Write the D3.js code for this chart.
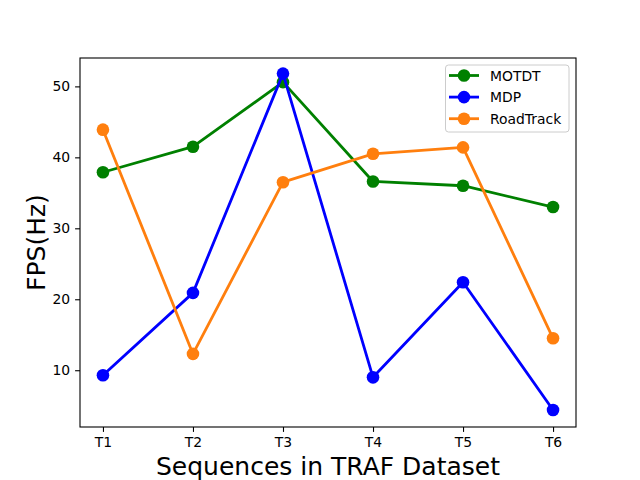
<!DOCTYPE html>
<html>
<head>
<meta charset="utf-8">
<script src="https://cdn.jsdelivr.net/npm/d3@7"></script>
<style>
  body { margin: 0; background: #fff; }
  svg { font-family: "DejaVu Sans", sans-serif; }
</style>
</head>
<body>
<div id="chart"></div>
<script>
// data
const categories = ['T1', 'T2', 'T3', 'T4', 'T5', 'T6']
const motdt = [37.9, 41.5, 50.6, 36.6, 36.0, 33.0]
const mdp = [9.3, 20.9, 51.8, 9.0, 22.4, 4.4]
const roadTrack = [43.9, 12.3, 36.5, 40.5, 41.4, 14.5]
const yTicks = [10, 20, 30, 40, 50]
const seriesNames = ['MOTDT', 'MDP', 'RoadTrack']
const seriesColors = ['green', 'blue', '#ff7f0e']

const width = 640, height = 480
const plotLeft = 80, plotRight = 576, plotTop = 58, plotBottom = 427

const svg = d3.select('#chart').append('svg')
    .attr('width', width)
    .attr('height', height)

const x = d3.scaleLinear().domain([-0.255, 5.255]).range([plotLeft, plotRight])
const y = d3.scaleLinear().domain([2, 54]).range([plotBottom, plotTop])

// axes
let xAxis = d3.axisBottom(x)
    .tickValues(d3.range(categories.length))
    .tickFormat(i => categories[i])
    .tickSize(4.9).tickPadding(4.9)
let yAxis = d3.axisLeft(y)
    .tickValues(yTicks)
    .tickSize(4.9).tickPadding(4.9)

let gx = svg.append('g').attr('transform', 'translate(0,' + plotBottom + ')').call(xAxis)
let gy = svg.append('g').attr('transform', 'translate(' + plotLeft + ',0)').call(yAxis)
;[gx, gy].forEach(function (g) {
    g.select('.domain').remove()
    g.selectAll('.tick line').attr('stroke', '#000').attr('stroke-width', 1.1)
    g.selectAll('.tick text').attr('fill', '#000').style('font-size', '13.9px')
        .style('font-family', '"DejaVu Sans", sans-serif')
})

// series
let allSeries = [motdt, mdp, roadTrack]
let line = d3.line().x((d, i) => x(i)).y(d => y(d))

allSeries.forEach(function (vals, s) {
    svg.append('path')
        .attr('d', line(vals))
        .attr('fill', 'none')
        .attr('stroke', seriesColors[s])
        .attr('stroke-width', 2.8)
        .attr('stroke-linejoin', 'round')
    svg.selectAll('.dot' + s)
        .data(vals)
        .enter()
        .append('circle')
        .attr('cx', (d, i) => x(i))
        .attr('cy', d => y(d))
        .attr('r', 6.3)
        .attr('fill', seriesColors[s])
})

// frame
svg.append('rect')
    .attr('x', plotLeft).attr('y', plotTop)
    .attr('width', plotRight - plotLeft).attr('height', plotBottom - plotTop)
    .attr('fill', 'none').attr('stroke', '#000').attr('stroke-width', 1.1)

// labels
svg.append('text')
    .attr('x', (plotLeft + plotRight) / 2).attr('y', 475)
    .attr('text-anchor', 'middle')
    .style('font-size', '25px')
    .text('Sequences in TRAF Dataset')

svg.append('text')
    .attr('transform', 'translate(45,' + ((plotTop + plotBottom) / 2) + ') rotate(-90)')
    .attr('text-anchor', 'middle')
    .style('font-size', '25px')
    .text('FPS(Hz)')

// legend
let legend = svg.append('g')
legend.append('rect')
    .attr('x', 445.5).attr('y', 65)
    .attr('width', 123.5).attr('height', 67)
    .attr('rx', 3)
    .attr('fill', 'rgba(255,255,255,0.8)')
    .attr('stroke', '#ccc')
seriesNames.forEach(function (name, i) {
    let ly = 75.5 + i * 21.6
    legend.append('line')
        .attr('x1', 449).attr('x2', 479)
        .attr('y1', ly).attr('y2', ly)
        .attr('stroke', seriesColors[i]).attr('stroke-width', 2.8)
    legend.append('circle')
        .attr('cx', 464).attr('cy', ly).attr('r', 6.3)
        .attr('fill', seriesColors[i])
    legend.append('text')
        .attr('x', 490).attr('y', ly + 5)
        .style('font-size', '13.9px')
        .text(name)
})
</script>
</body>
</html>
